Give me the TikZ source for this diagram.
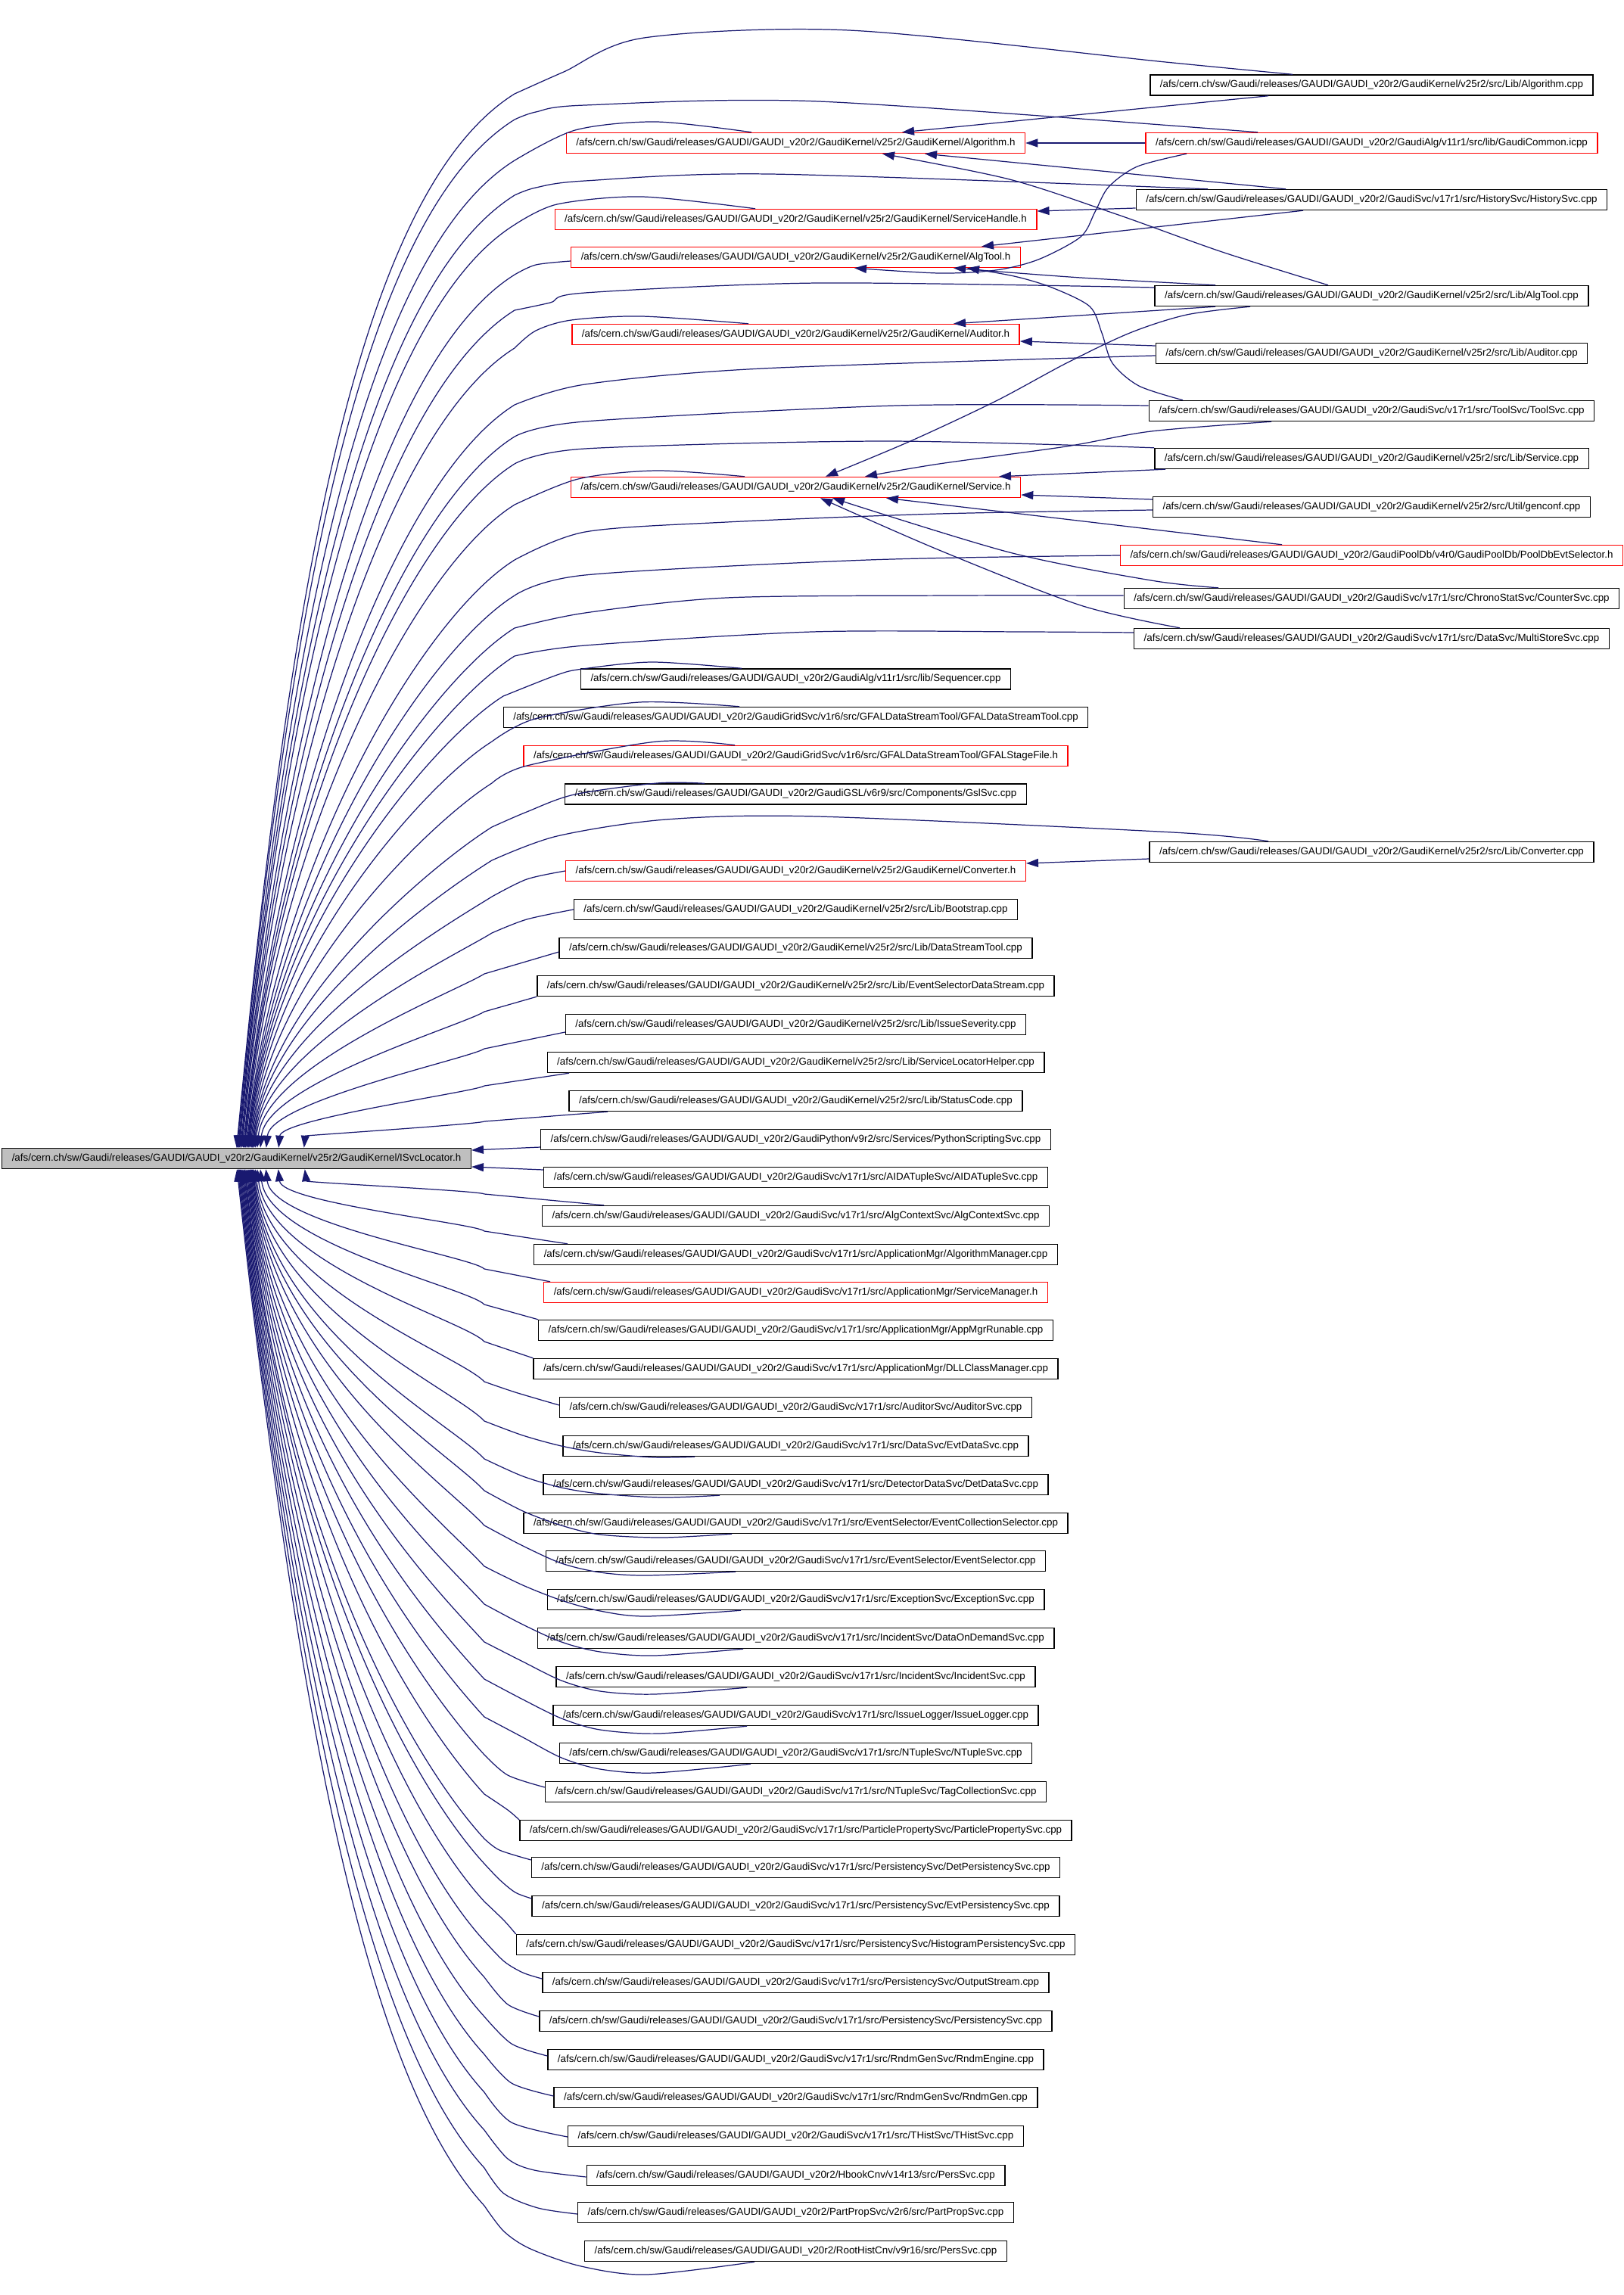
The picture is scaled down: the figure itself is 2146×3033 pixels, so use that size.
\documentclass[tikz,border=0pt]{standalone}
\usepackage{fontspec}
\setmainfont{Liberation Sans}
\usetikzlibrary{arrows.meta,calc}
\definecolor{edgeblue}{HTML}{191970}
\definecolor{locgray}{HTML}{BFBFBF}
\newcommand{\gpath}{/afs/cern.ch/sw/Gaudi/releases/GAUDI/GAUDI\_v20r2/}
\newcommand{\fromabove}[3]{%
  \pgfmathsetmacro{\sweeph}{1517-#3}%
  \pgfmathsetmacro{\sweepx}{30*(1-\sweeph/1400)+60*exp(max(-(\sweeph-35)/60,-9))}%
  \draw[dep] plot[smooth] coordinates {#1 (#2,#3)}
    .. controls ({#2-0.16*\sweeph},{#3+0.10*\sweeph})
    and ({312.5+\sweepx+0.045*\sweeph},{1517-0.47*\sweeph})
    .. ($(svc.north)+(\sweepx,0)$);}
\newcommand{\frombelow}[3]{%
  \pgfmathsetmacro{\sweeph}{#3-1544}%
  \pgfmathsetmacro{\sweepx}{30*(1-\sweeph/1400)+60*exp(max(-(\sweeph-35)/60,-9))}%
  \draw[dep] plot[smooth] coordinates {#1 (#2,#3)}
    .. controls ({#2-0.11*\sweeph},{#3-0.12*\sweeph})
    and ({312.5+\sweepx+0.06*\sweeph},{1544+0.55*\sweeph})
    .. ($(svc.south)+(\sweepx,0)$);}

\begin{document}
\begin{tikzpicture}[x=0.01cm,y=-0.01cm,
  font=\fontsize{3.8}{4.6}\selectfont,
  file/.style={draw=black,line width=0.4pt,fill=white,inner xsep=0.13cm,
    inner ysep=0pt,minimum height=0.27cm},
  trunc/.style={file,draw=red},
  main/.style={file,fill=locgray},
  dep/.style={draw=edgeblue,line width=0.35pt,
    -{Triangle[length=1.6mm,width=1.1mm]}}]
\useasboundingbox (0,0) rectangle (2146,3033);

\node[main] (svc) at (312.5,1531) {\gpath GaudiKernel/v25r2/GaudiKernel/ISvcLocator.h};

\node[file] (algcpp) at (1812.5,112.5) {\gpath GaudiKernel/v25r2/src/Lib/Algorithm.cpp};
\node[trunc] (gcommon) at (1812.5,189) {\gpath GaudiAlg/v11r1/src/lib/GaudiCommon.icpp};
\node[file] (histsvc) at (1812.5,264) {\gpath GaudiSvc/v17r1/src/HistorySvc/HistorySvc.cpp};
\node[file] (algtoolcpp) at (1812.5,391) {\gpath GaudiKernel/v25r2/src/Lib/AlgTool.cpp};
\node[file] (auditorcpp) at (1812.5,467) {\gpath GaudiKernel/v25r2/src/Lib/Auditor.cpp};
\node[file] (toolsvc) at (1812.5,543) {\gpath GaudiSvc/v17r1/src/ToolSvc/ToolSvc.cpp};
\node[file] (servicecpp) at (1812.5,606) {\gpath GaudiKernel/v25r2/src/Lib/Service.cpp};
\node[file] (genconf) at (1812.5,670) {\gpath GaudiKernel/v25r2/src/Util/genconf.cpp};
\node[trunc] (pooldb) at (1812.5,734) {\gpath GaudiPoolDb/v4r0/GaudiPoolDb/PoolDbEvtSelector.h};
\node[file] (countersvc) at (1812.5,791) {\gpath GaudiSvc/v17r1/src/ChronoStatSvc/CounterSvc.cpp};
\node[file] (multistore) at (1812.5,844) {\gpath GaudiSvc/v17r1/src/DataSvc/MultiStoreSvc.cpp};
\node[file] (convcpp) at (1812.5,1126) {\gpath GaudiKernel/v25r2/src/Lib/Converter.cpp};

\node[trunc] (algh) at (1051.5,189) {\gpath GaudiKernel/v25r2/GaudiKernel/Algorithm.h};
\node[trunc] (shandle) at (1051.5,290) {\gpath GaudiKernel/v25r2/GaudiKernel/ServiceHandle.h};
\node[trunc] (algtoolh) at (1051.5,340) {\gpath GaudiKernel/v25r2/GaudiKernel/AlgTool.h};
\node[trunc] (auditorh) at (1051.5,442) {\gpath GaudiKernel/v25r2/GaudiKernel/Auditor.h};
\node[trunc] (serviceh) at (1051.5,644) {\gpath GaudiKernel/v25r2/GaudiKernel/Service.h};
\node[file] (seq) at (1051.5,897.5) {\gpath GaudiAlg/v11r1/src/lib/Sequencer.cpp};
\node[file] (gfaldst) at (1051.5,948) {\gpath GaudiGridSvc/v1r6/src/GFALDataStreamTool/GFALDataStreamTool.cpp};
\node[trunc] (gfalsf) at (1051.5,999) {\gpath GaudiGridSvc/v1r6/src/GFALDataStreamTool/GFALStageFile.h};
\node[file] (gsl) at (1051.5,1049.5) {\gpath GaudiGSL/v6r9/src/Components/GslSvc.cpp};
\node[trunc] (converterh) at (1051.5,1151) {\gpath GaudiKernel/v25r2/GaudiKernel/Converter.h};
\node[file] (bootstrap) at (1051.5,1202) {\gpath GaudiKernel/v25r2/src/Lib/Bootstrap.cpp};
\node[file] (datastream) at (1051.5,1253) {\gpath GaudiKernel/v25r2/src/Lib/DataStreamTool.cpp};
\node[file] (esds) at (1051.5,1303) {\gpath GaudiKernel/v25r2/src/Lib/EventSelectorDataStream.cpp};
\node[file] (issuesev) at (1051.5,1354) {\gpath GaudiKernel/v25r2/src/Lib/IssueSeverity.cpp};
\node[file] (slhelper) at (1051.5,1404) {\gpath GaudiKernel/v25r2/src/Lib/ServiceLocatorHelper.cpp};
\node[file] (statuscode) at (1051.5,1455) {\gpath GaudiKernel/v25r2/src/Lib/StatusCode.cpp};
\node[file] (python) at (1051.5,1506) {\gpath GaudiPython/v9r2/src/Services/PythonScriptingSvc.cpp};
\node[file] (aida) at (1051.5,1556) {\gpath GaudiSvc/v17r1/src/AIDATupleSvc/AIDATupleSvc.cpp};
\node[file] (algctx) at (1051.5,1607) {\gpath GaudiSvc/v17r1/src/AlgContextSvc/AlgContextSvc.cpp};
\node[file] (algmgr) at (1051.5,1658) {\gpath GaudiSvc/v17r1/src/ApplicationMgr/AlgorithmManager.cpp};
\node[trunc] (svcmgr) at (1051.5,1708) {\gpath GaudiSvc/v17r1/src/ApplicationMgr/ServiceManager.h};
\node[file] (appmgr) at (1051.5,1758) {\gpath GaudiSvc/v17r1/src/ApplicationMgr/AppMgrRunable.cpp};
\node[file] (dllmgr) at (1051.5,1809) {\gpath GaudiSvc/v17r1/src/ApplicationMgr/DLLClassManager.cpp};
\node[file] (auditorsvc) at (1051.5,1860) {\gpath GaudiSvc/v17r1/src/AuditorSvc/AuditorSvc.cpp};
\node[file] (evtdata) at (1051.5,1911) {\gpath GaudiSvc/v17r1/src/DataSvc/EvtDataSvc.cpp};
\node[file] (detdata) at (1051.5,1962) {\gpath GaudiSvc/v17r1/src/DetectorDataSvc/DetDataSvc.cpp};
\node[file] (ecs) at (1051.5,2013) {\gpath GaudiSvc/v17r1/src/EventSelector/EventCollectionSelector.cpp};
\node[file] (evtsel) at (1051.5,2063) {\gpath GaudiSvc/v17r1/src/EventSelector/EventSelector.cpp};
\node[file] (excsvc) at (1051.5,2114) {\gpath GaudiSvc/v17r1/src/ExceptionSvc/ExceptionSvc.cpp};
\node[file] (dod) at (1051.5,2165) {\gpath GaudiSvc/v17r1/src/IncidentSvc/DataOnDemandSvc.cpp};
\node[file] (incsvc) at (1051.5,2216) {\gpath GaudiSvc/v17r1/src/IncidentSvc/IncidentSvc.cpp};
\node[file] (isslog) at (1051.5,2267) {\gpath GaudiSvc/v17r1/src/IssueLogger/IssueLogger.cpp};
\node[file] (ntuple) at (1051.5,2317) {\gpath GaudiSvc/v17r1/src/NTupleSvc/NTupleSvc.cpp};
\node[file] (tagcoll) at (1051.5,2368) {\gpath GaudiSvc/v17r1/src/NTupleSvc/TagCollectionSvc.cpp};
\node[file] (ppsvc) at (1051.5,2419) {\gpath GaudiSvc/v17r1/src/ParticlePropertySvc/ParticlePropertySvc.cpp};
\node[file] (detpers) at (1051.5,2468) {\gpath GaudiSvc/v17r1/src/PersistencySvc/DetPersistencySvc.cpp};
\node[file] (evtpers) at (1051.5,2519) {\gpath GaudiSvc/v17r1/src/PersistencySvc/EvtPersistencySvc.cpp};
\node[file] (histpers) at (1051.5,2570) {\gpath GaudiSvc/v17r1/src/PersistencySvc/HistogramPersistencySvc.cpp};
\node[file] (outstream) at (1051.5,2620) {\gpath GaudiSvc/v17r1/src/PersistencySvc/OutputStream.cpp};
\node[file] (perssvc) at (1051.5,2671) {\gpath GaudiSvc/v17r1/src/PersistencySvc/PersistencySvc.cpp};
\node[file] (rndmeng) at (1051.5,2722) {\gpath GaudiSvc/v17r1/src/RndmGenSvc/RndmEngine.cpp};
\node[file] (rndmgen) at (1051.5,2772) {\gpath GaudiSvc/v17r1/src/RndmGenSvc/RndmGen.cpp};
\node[file] (thist) at (1051.5,2823) {\gpath GaudiSvc/v17r1/src/THistSvc/THistSvc.cpp};
\node[file] (hbook) at (1051.5,2875) {\gpath HbookCnv/v14r13/src/PersSvc.cpp};
\node[file] (partprop) at (1051.5,2924) {\gpath PartPropSvc/v2r6/src/PartPropSvc.cpp};
\node[file] (roothist) at (1051.5,2975) {\gpath RootHistCnv/v9r16/src/PersSvc.cpp};

\draw[dep] (algcpp.south -| 1676,0) -- (algh.north -| 1192,0);
\draw[dep] (gcommon.west) -- (algh.east);
\draw[dep] plot[smooth] coordinates {(gcommon.south -| 1568,0) (1503,220) (1465,247) (1447,280) (1428,313) (1372,343) (1316,357) (1241,361) (algtoolh.south -| 1129,0)};
\draw[dep] (histsvc.north -| 1699,0) -- (algh.south -| 1222,0);
\draw[dep] (histsvc.west |- 0,275) -- (shandle.east |- 0,279);
\draw[dep] (histsvc.south -| 1722,0) -- (algtoolh.north -| 1297,0);
\draw[dep] plot[smooth] coordinates {(algtoolcpp.north -| 1755,0) (1615,333) (1475,283) (1334,237) (algh.south -| 1166,0)};
\draw[dep] plot[smooth] coordinates {(algtoolcpp.north -| 1606,0) (1428,367) (algtoolh.south -| 1260,0)};
\draw[dep] (algtoolcpp.south -| 1606,0) -- (auditorh.north -| 1260,0);
\draw[dep] plot[smooth] coordinates {(algtoolcpp.south -| 1652,0) (1568,416) (1493,440) (1409,480) (1316,530) (1203,583) (serviceh.north -| 1091,0)};
\draw[dep] (auditorcpp.west |- 0,457) -- (auditorh.east |- 0,451);
\draw[dep] plot[smooth] coordinates {(toolsvc.south -| 1680,0) (1521,570) (1409,590) (1241,613) (serviceh.north -| 1143,0)};
\draw[dep] plot[smooth] coordinates {(toolsvc.north -| 1563,0) (1505,510) (1470,480) (1456,440) (1440,405) (1390,380) (1340,365) (algtoolh.south -| 1278,0)};
\draw[dep] (servicecpp.south -| 1540,0) -- (serviceh.north -| 1320,0);
\draw[dep] (genconf.west |- 0,660) -- (serviceh.east |- 0,654);
\draw[dep] (pooldb.north -| 1694,0) -- (serviceh.south -| 1171,0);
\draw[dep] plot[smooth] coordinates {(countersvc.north -| 1610,0) (1521,767) (1334,730) (serviceh.south -| 1100,0)};
\draw[dep] plot[smooth] coordinates {(multistore.north -| 1559,0) (1428,800) (1241,727) (serviceh.south -| 1084,0)};
\draw[dep] (convcpp.west |- 0,1135) -- (converterh.east |- 0,1141);

\fromabove{(algcpp.north -| 1708,0) (1540,82) (1122,40) (851,50) (745,95)}{680}{124}
\fromabove{(gcommon.north -| 1662,0) (1082,134) (773,139) (708,148)}{680}{158}
\fromabove{(algh.north -| 993,0) (867,161) (760,172)}{680}{212}
\fromabove{(histsvc.north -| 1596,0) (1017,230) (773,239) (708,248)}{680}{258}
\fromabove{(shandle.north -| 998,0) (848,260) (736,270)}{680}{297}
\fromabove{(algtoolh.west |- 0,345) (708,350)}{680}{363}
\fromabove{(algtoolcpp.west |- 0,380) (1082,374) (773,387) (727,400)}{680}{410}
\fromabove{(auditorh.north -| 989,0) (848,418) (755,423) (708,437)}{680}{460}
\fromabove{(auditorcpp.west |- 0,470) (1007,487) (773,508)}{680}{535}
\fromabove{(toolsvc.west |- 0,536) (1185,536) (773,557)}{680}{577}
\fromabove{(servicecpp.north west) (1166,583) (773,593)}{680}{613}
\fromabove{(serviceh.north -| 984,0) (867,622) (764,633)}{680}{667}
\fromabove{(genconf.west |- 0,674) (1241,679) (960,690) (773,703)}{680}{740}
\fromabove{(pooldb.west) (1147,740) (773,760)}{680}{787}
\fromabove{(countersvc.west |- 0,787) (1259,787) (960,790) (773,810)}{680}{830}
\fromabove{(multistore.west |- 0,836) (1353,835) (1073,835) (773,853)}{680}{867}
\fromabove{(seq.north -| 980,0) (862,875) (770,884) (736,892)}{665}{920}
\fromabove{(gfaldst.north -| 977,0) (845,928) (707,950)}{650}{980}
\fromabove{(gfalsf.north -| 971,0) (868,980) (696,1012)}{650}{1035}
\fromabove{(gsl.north -| 931,0) (868,1035) (759,1050) (696,1073)}{650}{1093}
\fromabove{(convcpp.north -| 1676,0) (1550,1100) (1080,1079) (880,1083) (736,1105)}{650}{1137}
\fromabove{(converterh.west) (696,1162)}{650}{1185}
\fromabove{(bootstrap.west) (696,1215)}{650}{1233}
\fromabove{(datastream.west |- 0,1258)}{640}{1287}
\fromabove{(esds.south west)}{640}{1337}
\fromabove{(issuesev.west |- 0,1364)}{640}{1386}
\fromabove{(slhelper.south -| 752,0)}{640}{1435}
\fromabove{(statuscode.south -| 803,0)}{640}{1482}

\draw[dep] (python.west |- 0,1516) -- (svc.east |- 0,1520);
\draw[dep] (aida.west |- 0,1546) -- (svc.east |- 0,1542);

\frombelow{(algctx.north -| 798,0)}{640}{1578}
\frombelow{(algmgr.north -| 750,0)}{640}{1627}
\frombelow{(svcmgr.north -| 727,0)}{640}{1677}
\frombelow{(appmgr.north west)}{640}{1724}
\frombelow{(dllmgr.north west)}{640}{1773}
\frombelow{(auditorsvc.west |- 0,1857) (681,1840)}{640}{1826}
\frombelow{(evtdata.south -| 918,0) (864,1926) (793,1920) (742,1911) (691,1897)}{640}{1878}
\frombelow{(detdata.south -| 951,0) (875,1979) (793,1974) (742,1966) (691,1951)}{640}{1928}
\frombelow{(ecs.south -| 967,0) (875,2032) (793,2028) (742,2016) (691,1997)}{640}{1970}
\frombelow{(evtsel.south -| 972,0) (854,2082) (793,2078) (742,2066) (691,2043)}{640}{2016}
\frombelow{(excsvc.south -| 979,0) (854,2136) (793,2129) (742,2115) (691,2095)}{640}{2070}
\frombelow{(dod.south -| 982,0) (864,2188) (793,2183) (742,2170) (691,2147)}{640}{2120}
\frombelow{(incsvc.south -| 987,0) (864,2239) (793,2235) (742,2221) (691,2196)}{640}{2170}
\frombelow{(isslog.south -| 987,0) (870,2291) (793,2286) (742,2271) (691,2246)}{640}{2219}
\frombelow{(ntuple.south -| 992,0) (864,2343) (793,2338) (742,2323) (691,2296)}{640}{2269}
\frombelow{(tagcoll.west |- 0,2362) (671,2346)}{640}{2319}
\frombelow{(ppsvc.west |- 0,2405) (671,2392)}{640}{2371}
\frombelow{(detpers.west |- 0,2458) (660,2445)}{640}{2430}
\frombelow{(evtpers.west |- 0,2509) (681,2501) (660,2484)}{640}{2463}
\frombelow{(histpers.west |- 0,2556) (666,2538)}{640}{2513}
\frombelow{(outstream.west |- 0,2615) (691,2607) (666,2592)}{640}{2565}
\frombelow{(perssvc.west |- 0,2665) (671,2649)}{640}{2613}
\frombelow{(rndmeng.west |- 0,2717) (676,2701)}{640}{2665}
\frombelow{(rndmgen.west |- 0,2770) (676,2753)}{640}{2715}
\frombelow{(thist.west |- 0,2824) (676,2805)}{640}{2765}
\frombelow{(hbook.west |- 0,2877) (706,2868) (671,2853)}{640}{2815}
\frombelow{(partprop.west |- 0,2926) (711,2918) (666,2899)}{640}{2865}
\frombelow{(roothist.south -| 997,0) (854,3006) (768,2995) (701,2972) (666,2949)}{640}{2915}
\end{tikzpicture}
\end{document}
